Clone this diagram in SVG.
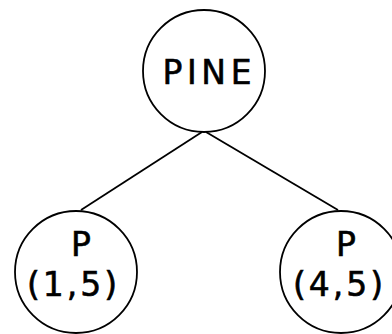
<svg xmlns="http://www.w3.org/2000/svg" width="392" height="334" viewBox="0 0 392 334">
<style>
.n{fill:#fff;stroke:#000;stroke-width:1.8}
.t{font-family:"DejaVu Sans","Liberation Sans",sans-serif;font-size:33px;fill:#000;stroke:#000;stroke-width:0.6;text-anchor:middle}
.e{stroke:#000;stroke-width:1.8;fill:none}
</style>
<rect width="392" height="334" fill="#fff"/>
<g id="edges">
<line class="e" x1="202" y1="132" x2="81" y2="210"/>
<line class="e" x1="206" y1="132" x2="338" y2="210"/>
</g>
<g id="pine">
<circle class="n" cx="204" cy="71" r="61"/>
<text class="t" x="207" y="84" textLength="89" lengthAdjust="spacing">PINE</text>
</g>
<g id="p15">
<circle class="n" cx="76" cy="272" r="61"/>
<text class="t" x="81" y="256">P</text>
<text class="t" x="72" y="296" textLength="90" lengthAdjust="spacing">(1,5)</text>
</g>
<g id="p45">
<circle class="n" cx="341" cy="272" r="61"/>
<text class="t" x="346" y="256">P</text>
<text class="t" x="338" y="296" textLength="90" lengthAdjust="spacing">(4,5)</text>
</g>
</svg>
